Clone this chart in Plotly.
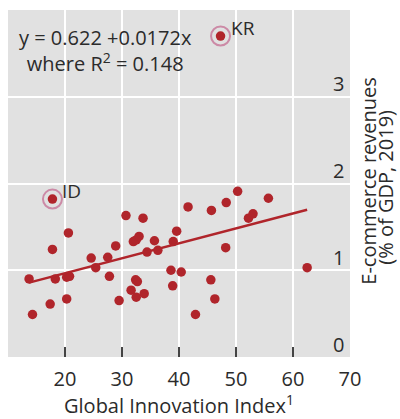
import plotly.graph_objects as go

# Global Innovation Index (x) and e-commerce revenues, % of GDP 2019 (y)
gii = [17.8, 47.3, 20.6, 17.8, 13.7, 18.3, 20.3, 20.8, 24.6, 25.4,
       27.5, 27.8, 28.9, 17.4, 20.3, 14.3, 29.5, 30.7, 31.6, 32.4,
       32.7, 32.5, 32.0, 32.5, 33.0, 33.7, 33.9, 34.4, 35.7, 36.3,
       38.6, 38.9, 39.0, 39.6, 40.4, 41.6, 42.9, 45.7, 48.3, 50.3,
       55.7, 52.2, 53.0, 48.2, 45.6, 46.3, 62.5]
ecom = [1.82, 3.70, 1.43, 1.24, 0.90, 0.90, 0.92, 0.93, 1.14, 1.03,
        1.15, 0.93, 1.28, 0.61, 0.67, 0.49, 0.65, 1.63, 0.77, 0.89,
        0.87, 0.69, 1.33, 1.35, 1.39, 1.60, 0.73, 1.21, 1.34, 1.23,
        1.00, 0.82, 1.33, 1.45, 0.98, 1.73, 0.49, 1.69, 1.78, 1.91,
        1.83, 1.60, 1.65, 1.26, 0.89, 0.67, 1.03]

hl_codes = ["ID", "KR"]
hl_gii = [17.8, 47.3]
hl_ecom = [1.82, 3.70]

intercept = 0.622
slope = 0.0172
r2 = 0.148

x_ticks = [10, 20, 30, 40, 50, 60, 70]
x_ticktext = ["", "20", "30", "40", "50", "60", "70"]
y_ticks = [0, 1, 2, 3]
y_title_lines = ["E-commerce revenues", "(% of GDP, 2019)"]

RED = "#b0252b"
RING = "#cc8aa6"
TXT = "#2b2b2b"
FONT = "Open Sans"
FS = 20

x0, x1 = min(gii), max(gii)

fig = go.Figure()
fig.add_trace(go.Scatter(
    x=gii, y=ecom, mode="markers",
    marker=dict(size=9.5, color=RED, line=dict(width=0)),
    hoverinfo="skip", showlegend=False))
fig.add_trace(go.Scatter(
    x=[x0, x1], y=[intercept + slope * x0, intercept + slope * x1],
    mode="lines", line=dict(color=RED, width=2.5),
    hoverinfo="skip", showlegend=False))
fig.add_trace(go.Scatter(
    x=hl_gii, y=hl_ecom, mode="markers",
    marker=dict(size=19, symbol="circle-open", color=RING, line=dict(width=2, color=RING)),
    hoverinfo="skip", showlegend=False))

for code, gx, ey in zip(hl_codes, hl_gii, hl_ecom):
    fig.add_annotation(x=gx, y=ey, text=code, showarrow=False,
                       xanchor="left", yanchor="middle", xshift=8, yshift=8,
                       font=dict(family=FONT, size=19, color=TXT))

fig.add_annotation(
    xref="paper", yref="paper", x=0.2865, y=0.965,
    xanchor="center", yanchor="top", align="center", showarrow=False,
    text=f"y = {intercept} +{slope}x<br>where R<sup>2</sup> = {r2}",
    font=dict(family=FONT, size=FS, color=TXT))

# y tick labels: inside the plot, right aligned, just above each gridline
for yv in y_ticks:
    fig.add_annotation(xref="paper", yref="y", x=1, y=yv, xshift=-4, yshift=13,
                       xanchor="right", yanchor="middle", showarrow=False,
                       text=str(yv), font=dict(family=FONT, size=FS, color=TXT))

# y axis title, two lines rotated on the right
for i, (line, ypos) in enumerate(zip(y_title_lines, [0.508, 0.488])):
    fig.add_annotation(xref="paper", yref="paper", x=1, y=ypos, xshift=19 + 17 * i,
                       xanchor="center", yanchor="middle", textangle=-90, showarrow=False,
                       text=line, font=dict(family=FONT, size=FS, color=TXT))

fig.update_layout(
    width=400, height=419,
    margin=dict(l=8, r=50, t=10, b=62),
    paper_bgcolor="white", plot_bgcolor="#e1e1e1",
    font=dict(family=FONT, size=FS, color=TXT),
    xaxis=dict(range=[10, 70.02], tickvals=x_ticks, ticktext=x_ticktext,
               ticks="inside", ticklen=10, tickwidth=1.5, tickcolor="#444",
               showgrid=True, gridcolor="white", gridwidth=2,
               zeroline=False, showline=False, ticklabelstandoff=8,
               title=dict(text="Global Innovation Index<sup>1</sup>", standoff=4,
                          font=dict(family=FONT, size=FS, color=TXT))),
    yaxis=dict(range=[0, 4], tickvals=y_ticks, showticklabels=False, ticks="",
               showgrid=True, gridcolor="white", gridwidth=2,
               zeroline=False, showline=False),
)

fig.write_html("out.html")
